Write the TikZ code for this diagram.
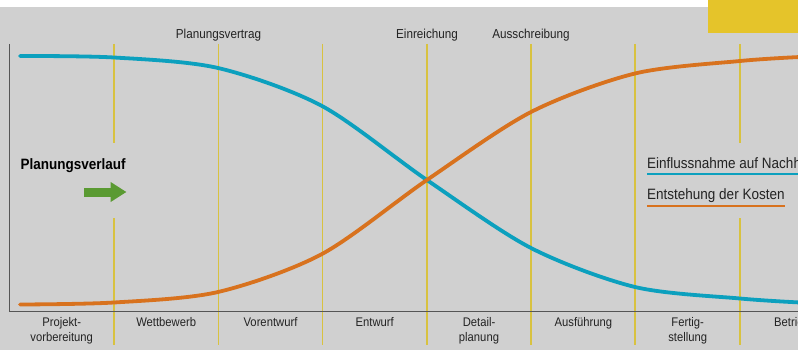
\documentclass[tikz,border=0pt]{standalone}
\usepackage{fontspec}
\setmainfont{Liberation Sans}[FakeStretch=0.9]
\usepackage{xcolor}
\usetikzlibrary{arrows.meta}

\definecolor{bggray}{RGB}{208,208,208}
\definecolor{gridyellow}{RGB}{216,194,64}
\definecolor{boxyellow}{RGB}{229,196,42}
\definecolor{influenceblue}{RGB}{12,160,190}
\definecolor{costorange}{RGB}{216,114,30}
\definecolor{flowgreen}{RGB}{90,154,50}
\definecolor{axisgray}{RGB}{85,85,85}
\definecolor{textdark}{RGB}{35,35,35}

\begin{document}
\begin{tikzpicture}[x=1pt, y=-1pt,
    milestone/.style={inner sep=0pt, anchor=base, text=textdark, font=\fontsize{13}{15}\selectfont},
    phase/.style={inner sep=0pt, anchor=north, align=center, text=textdark, font=\fontsize{12.5}{15.5}\selectfont},
    legendtext/.style={inner sep=0pt, anchor=base west, text=textdark, font=\fontsize{15}{17}\selectfont},
    gridline/.style={gridyellow, line width=1.5pt},
    axis/.style={axisgray, line width=1.3pt},
    curve/.style={line width=3.8pt, line cap=round},
    flowarrow/.style={flowgreen, line width=9pt, -{Triangle[length=16pt, width=19pt]}}]
      \useasboundingbox (0,0) rectangle (798,350);
      \clip (0,0) rectangle (798,350);

      % background
      \fill[white] (0,0) rectangle (798,350);
      \fill[bggray] (0,7) rectangle (798,350);
      \fill[boxyellow] (708,0) rectangle (798,33);

      % phase borders
      \draw[gridline] (114,44) -- (114,143);
      \draw[gridline] (114,218) -- (114,345);
      \draw[gridline] (218.5,44) -- (218.5,345);
      \draw[gridline] (322.5,44) -- (322.5,345);
      \draw[gridline] (427,44) -- (427,345);
      \draw[gridline] (531,44) -- (531,345);
      \draw[gridline] (635,44) -- (635,345);
      \draw[gridline] (740,44) -- (740,143);
      \draw[gridline] (740,218) -- (740,345);

      % axes
      \coordinate (top) at (9.5,44);
      \coordinate (origin) at (9.5,311.5);
      \coordinate (right) at (800,311.5);
      \draw[axis] (top) -- (origin) -- (right);

      % curves
      \draw[curve, influenceblue] plot[smooth] coordinates {(20,56) (114,57.5) (218,68) (322,106) (426.9,180) (531,248) (635,287) (740,298.5) (800,302.5)};
      \draw[curve, costorange] plot[smooth] coordinates {(20,304.5) (114,302.5) (218,292) (322,254) (426.9,180) (531,112) (635,73.5) (740,61) (800,57)};

      % milestones
      \node (vertrag) [milestone] at (218.5,38.5) {Planungsvertrag};
      \node (einreichung) [milestone] at (427,38.5) {Einreichung};
      \node (ausschreibung) [milestone] at (531,38.5) {Ausschreibung};

      % flow
      \node (verlauf) [inner sep=0pt, anchor=base west, text=black, font=\fontsize{15}{17}\selectfont\bfseries] at (20.5,169) {Planungsverlauf};
      \coordinate (flowstart) at (84,192);
      \coordinate (flowend) at (126.5,192);
      \draw[flowarrow] (flowstart) -- (flowend);

      % legend
      \node (influence) [legendtext] at (647,168.5) {Einflussnahme auf Nachhaltigkeit};
      \node (costs) [legendtext] at (647,200) {Entstehung der Kosten};
      \draw[influenceblue, line width=2.2pt] ([yshift=-2.5pt]influence.south west) -- ([yshift=-2.5pt]influence.south east);
      \draw[costorange, line width=2.2pt] ([yshift=-2.5pt]costs.south west) -- ([yshift=-2.5pt]costs.south east);

      % phases
      \node (vorbereitung) [phase] at (61.7,317) {Projekt-\\vorbereitung};
      \node (wettbewerb) [phase] at (166.2,317) {Wettbewerb};
      \node (vorentwurf) [phase] at (270.5,317) {Vorentwurf};
      \node (entwurf) [phase] at (374.8,317) {Entwurf};
      \node (detail) [phase] at (479,317) {Detail-\\planung};
      \node (ausfuehrung) [phase] at (583.4,317) {Ausführung};
      \node (fertig) [phase] at (687.7,317) {Fertig-\\stellung};
      \node (betrieb) [phase] at (792,317) {Betrieb};
    \end{tikzpicture}
\end{document}
